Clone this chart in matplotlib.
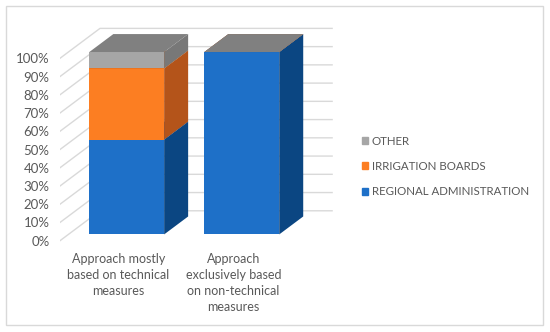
import matplotlib.pyplot as plt
from matplotlib.patches import Polygon, Rectangle, Patch

# data
categories = ['Approach mostly\nbased on technical\nmeasures',
              'Approach\nexclusively based\non non-technical\nmeasures']
series_names = ['REGIONAL ADMINISTRATION', 'IRRIGATION BOARDS', 'OTHER']
regional = [52, 100]
irrigation = [39, 0]
other = [9, 0]
values = [regional, irrigation, other]
yticks = [0, 10, 20, 30, 40, 50, 60, 70, 80, 90, 100]

# colours: front, side, top
front_col = ['#1E70C8', '#FC7E22', '#A6A6A6']
side_col = ['#0B4682', '#B4541A', '#787878']
top_col = ['#1A5FAA', '#D8691C', '#808080']
grid_col = '#D9D9D9'
text_col = '#595959'

plt.rcParams['font.family'] = ['Lato', 'DejaVu Sans']

# oblique projection (category units, percent)
DX = 0.3475
DY = 16.4
z0, z1 = 0.21, 0.81
width = 0.65
xl, xr = -0.507, 1.51


def proj(x, v, z):
    return (x + z * DX, v + z * DY)


fig = plt.figure(figsize=(5.5, 3.32), dpi=100)
ax = fig.add_axes([60 / 550, 0, 490 / 550, 1])
ax.set_xlim(-0.507, 3.751)
ax.set_ylim(-50.05, 131.96)
for s in ax.spines.values():
    s.set_visible(False)
ax.set_xticks([])
ax.set_yticks(yticks)
ax.set_yticklabels([str(t) + '%' for t in yticks])
ax.tick_params(axis='y', length=0, pad=7.5, labelsize=9.5, labelcolor=text_col)

# walls
for t in yticks:
    a = proj(xl, t, 0)
    b = proj(xl, t, 1)
    c = proj(xr, t, 1)
    ax.plot([a[0], b[0], c[0]], [a[1], b[1], c[1]], color=grid_col, lw=1, zorder=1)

# bars
x = [0, 1]
zo = 2
for i in range(len(x)):
    bottom = 0
    for k in range(len(values)):
        h = values[k][i]
        x0 = x[i] - width / 2
        x1 = x[i] + width / 2
        fx, fy = proj(x[i], bottom, z0)
        ax.bar(fx, h, bottom=fy, width=width, color=front_col[k], lw=0, zorder=zo)
        side = [proj(x1, bottom, z0), proj(x1, bottom, z1),
                proj(x1, bottom + h, z1), proj(x1, bottom + h, z0)]
        ax.add_patch(Polygon(side, closed=True, fc=side_col[k], lw=0, zorder=zo))
        top = [proj(x0, bottom + h, z0), proj(x0, bottom + h, z1),
               proj(x1, bottom + h, z1), proj(x1, bottom + h, z0)]
        ax.add_patch(Polygon(top, closed=True, fc=top_col[k], lw=0, zorder=zo))
        bottom += h
        zo += 1

# category labels
for i in range(len(x)):
    ax.text(x[i], -6.5, categories[i], ha='center', va='top', fontsize=9,
            color=text_col, linespacing=1.4)

handles = [Patch(color=front_col[k], label=series_names[k]) for k in range(3)][::-1]
fig.legend(handles=handles, loc='upper left', bbox_to_anchor=(0.647, 0.609),
           frameon=False, fontsize=8.3, handlelength=0.55, handleheight=0.55,
           handletextpad=0.35, labelspacing=1.25, borderpad=0, labelcolor=text_col)

fig.patches.append(Rectangle((6 / 550, 1 - 325 / 332), 537 / 550, 319 / 332,
                             transform=fig.transFigure, fill=False,
                             ec=grid_col, lw=1))

fig.savefig('out.png', dpi=100)
